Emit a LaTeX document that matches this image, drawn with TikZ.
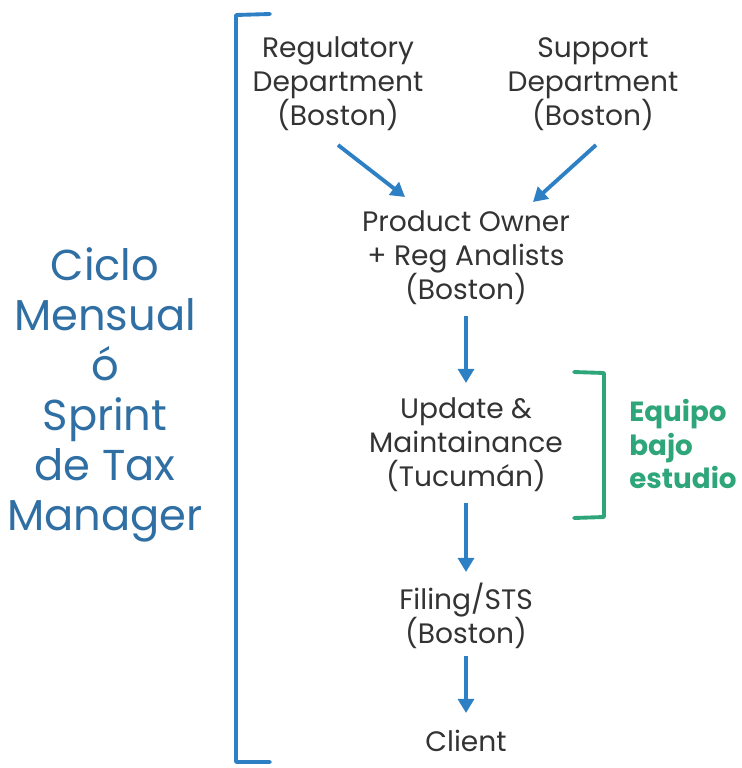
\documentclass[tikz,border=0pt]{standalone}
\usepackage{fontspec}
\setmainfont{Poppins}
\usetikzlibrary{arrows.meta}
\definecolor{bracketblue}{HTML}{2E80C4}
\definecolor{titleblue}{HTML}{2F6FA3}
\definecolor{teamgreen}{HTML}{2EA67A}
\definecolor{bodygray}{HTML}{333333}
\tikzset{
  stage/.style={align=center, text=bodygray, font=\fontsize{16}{19.4}\selectfont, inner sep=0pt},
  flow/.style={bracketblue, line width=2.2pt, -{Triangle[length=8pt,width=9pt]}},
  bracket/.style={line width=2.2pt, line cap=round, line join=round}
}
\begin{document}
\begin{tikzpicture}[x=0.02cm, y=-0.02cm]
\useasboundingbox (0,0) rectangle (741,768);
% outer bracket spanning the whole cycle
\draw[bracket, bracketblue] (270,14) -- (236,15) -- (236,762) -- (270,762);
% cycle title
\node[align=center, text=titleblue, font=\fontsize{24.6}{28.5}\selectfont, inner sep=0pt] (title) at (105,395)
  {Ciclo\\Mensual\\ó\\Sprint\\de Tax\\Manager};
% stages
\node[stage] (reg) at (338,84) {Regulatory\\Department\\(Boston)};
\node[stage] (sup) at (593,84) {Support\\Department\\(Boston)};
\node[stage] (po) at (466,258) {Product Owner\\+ Reg Analists\\(Boston)};
\node[stage] (upd) at (466,445) {Update \&\\Maintainance\\(Tucumán)};
\node[stage] (fil) at (466,616) {Filing/STS\\(Boston)};
\node[stage] (cli) at (466,741) {Client};
% connectors
\coordinate (a1s) at (338,145); \coordinate (a1e) at (405,197);
\coordinate (a2s) at (596,145); \coordinate (a2e) at (533,202);
\draw[flow] (a1s) -- (a1e);
\draw[flow] (a2s) -- (a2e);
\draw[flow] (po.south |- 0,316) -- (po.south |- 0,383);
\draw[flow] (upd.south |- 0,503) -- (upd.south |- 0,572);
\draw[flow] (fil.south |- 0,656) -- (fil.south |- 0,713);
% team under study
\draw[bracket, teamgreen] (574,372) -- (604,373) -- (604,517) -- (574,518);
\node[align=left, anchor=west, text=teamgreen, font=\fontsize{15.8}{19}\selectfont\bfseries, inner sep=0pt] (team) at (629,444)
  {Equipo\\bajo\\estudio};
\end{tikzpicture}
\end{document}
